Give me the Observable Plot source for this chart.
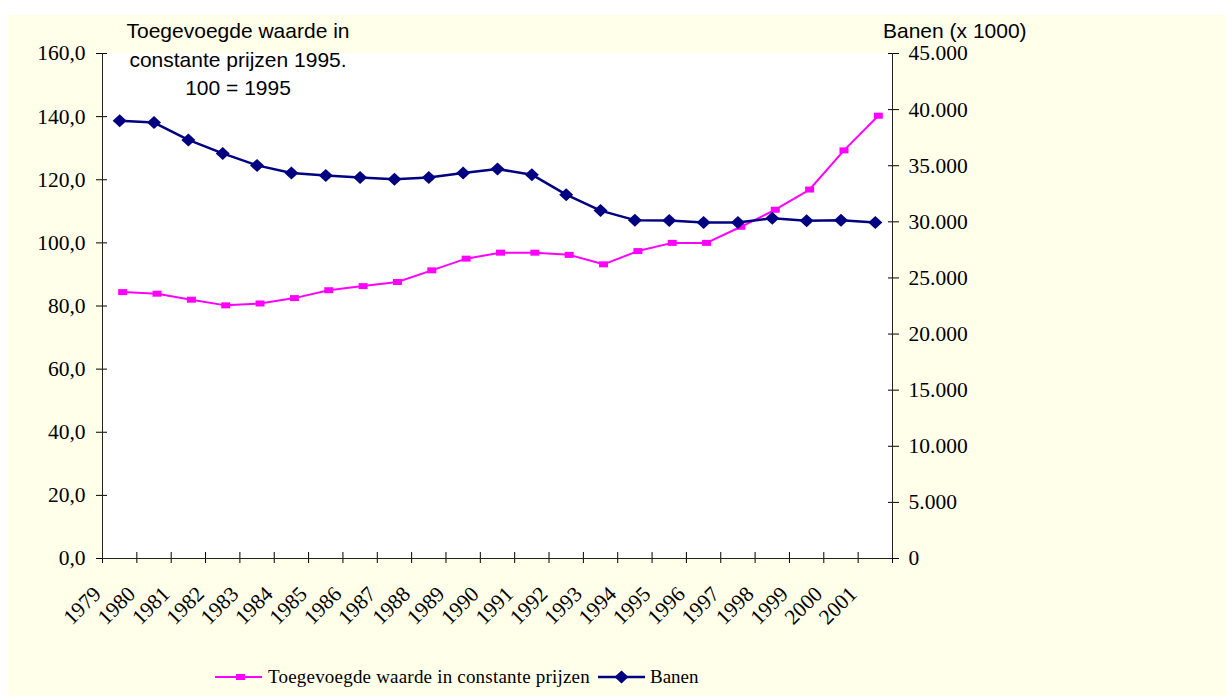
<!DOCTYPE html>
<html><head><meta charset="utf-8">
<script src="https://cdn.jsdelivr.net/npm/d3@7"></script>
<script src="https://cdn.jsdelivr.net/npm/@observablehq/plot@0.6"></script>
<style>
html,body{margin:0;padding:0;background:#fff;width:1226px;height:696px;overflow:hidden;}
#bg{position:absolute;left:8px;top:15px;width:1218px;height:681px;background:#FFFFEA;}
#chart{position:absolute;left:0;top:0;}
.t{position:absolute;font-family:"Liberation Sans",Arial,sans-serif;font-size:21px;line-height:28.5px;color:#000;white-space:nowrap;}
#legend{position:absolute;top:665px;left:215px;height:24px;font-family:"Liberation Serif","Times New Roman",serif;font-size:19px;display:flex;align-items:center;color:#000;white-space:nowrap;}
#legend svg{display:block;}
</style></head><body>
<div id="bg"></div>
<div id="chart"></div>
<div class="t" style="left:88px;top:17px;width:300px;text-align:center;">Toegevoegde waarde in<br>constante prijzen 1995.<br>100 = 1995</div>
<div class="t" style="left:883px;top:17px;">Banen (x 1000)</div>
<div id="legend">
  <svg width="47" height="14"><line x1="0" x2="47" y1="7" y2="7" stroke="#FF00FF" stroke-width="2"/><rect x="21" y="4" width="9" height="6" fill="#FF00FF"/></svg>
  <span style="margin-left:6px;letter-spacing:0.2px">Toegevoegde waarde in constante prijzen</span>
  <svg width="47" height="14" style="margin-left:8px"><line x1="0" x2="47" y1="7" y2="7" stroke="#000080" stroke-width="2.5"/><path d="M23.5,0.5L30.5,7L23.5,13.5L16.5,7Z" fill="#000080"/></svg>
  <span style="margin-left:5px">Banen</span>
</div>
<script>
// ---- data ----
const years = ["1979","1980","1981","1982","1983","1984","1985","1986","1987","1988","1989","1990","1991","1992","1993","1994","1995","1996","1997","1998","1999","2000","2001"];
const waarde = [84.4, 83.9, 82.0, 80.2, 80.8, 82.5, 85.0, 86.3, 87.6, 91.3, 95.0, 96.9, 96.9, 96.2, 93.2, 97.4, 100.0, 100.0, 105.1, 110.5, 116.9, 129.3, 140.3];
const banen = [39000, 38850, 37300, 36100, 35030, 34350, 34130, 33950, 33800, 33950, 34350, 34700, 34200, 32420, 31000, 30150, 30120, 29950, 29950, 30320, 30100, 30150, 29950];
const leftTicks = [0, 20, 40, 60, 80, 100, 120, 140, 160];
const rightTicks = [0, 5000, 10000, 15000, 20000, 25000, 30000, 35000, 40000, 45000];
const leftMax = 160, rightMax = 45000;

const toLeft = v => v * leftMax / rightMax;
const fromLeft = v => Math.round(v * rightMax / leftMax);
const rows = years.map((y, i) => ({i, year: y, waarde: waarde[i], banen: toLeft(banen[i])}));
const tickIdx = years.map((_, i) => i).concat([years.length]);

const nl = d3.formatLocale({decimal: ",", thousands: ".", grouping: [3], currency: ["", ""]});
const fmtRight = nl.format(",.0f");
const fmtLeft = d => d.toFixed(1).replace(".", ",");

const squareSym = {draw(ctx) { ctx.rect(-4.5, -3, 9, 6); }};
const diamondSym = {draw(ctx) { ctx.moveTo(0, -6.5); ctx.lineTo(7, 0); ctx.lineTo(0, 6.5); ctx.lineTo(-7, 0); ctx.closePath(); }};

const chart = Plot.plot({
  width: 1226, height: 640,
  marginLeft: 102, marginRight: 334, marginTop: 53, marginBottom: 82,
  x: {domain: [0, years.length]},
  y: {domain: [0, leftMax]},
  style: {background: "transparent", fontFamily: "Liberation Serif, Times New Roman, serif", fontSize: "21.5px", color: "#000", overflow: "visible"},
  marks: [
    Plot.frame({fill: "white", stroke: null}),
    Plot.axisY(leftTicks, {anchor: "left", tickSize: 6, tickPadding: 11, tickFormat: fmtLeft, label: null}),
    Plot.axisY(leftTicks, {anchor: "left", tickSize: -5, tickFormat: () => "", label: null}),
    Plot.axisY(rightTicks.map(toLeft), {anchor: "right", tickSize: 6, tickPadding: 10, tickFormat: d => fmtRight(fromLeft(d)), label: null}),
    Plot.axisY(rightTicks.map(toLeft), {anchor: "right", tickSize: -5, tickFormat: () => "", label: null}),
    Plot.axisX(tickIdx, {anchor: "bottom", tickSize: 5, label: null, tickFormat: () => ""}),
    Plot.axisX(tickIdx, {anchor: "bottom", tickSize: 0, tickPadding: 32, tickRotate: -45, dx: -5, tickFormat: i => years[i] ?? "", label: null}),
    Plot.axisX(tickIdx, {anchor: "bottom", tickSize: -6, tickFormat: () => "", label: null}),
    Plot.ruleX([0, years.length], {stroke: "#222"}),
    Plot.ruleY([0], {stroke: "#222"}),
    Plot.line(rows, {x: d => d.i + 0.5, y: "waarde", stroke: "#FF00FF", strokeWidth: 2, dx: 3}),
    Plot.dot(rows, {x: d => d.i + 0.5, y: "waarde", symbol: squareSym, fill: "#FF00FF", stroke: null, dx: 3}),
    Plot.line(rows, {x: d => d.i + 0.5, y: "banen", stroke: "#000080", strokeWidth: 2.5}),
    Plot.dot(rows, {x: d => d.i + 0.5, y: "banen", symbol: diamondSym, fill: "#000080", stroke: null})
  ]
});
document.getElementById("chart").appendChild(chart);
</script>
</body></html>
